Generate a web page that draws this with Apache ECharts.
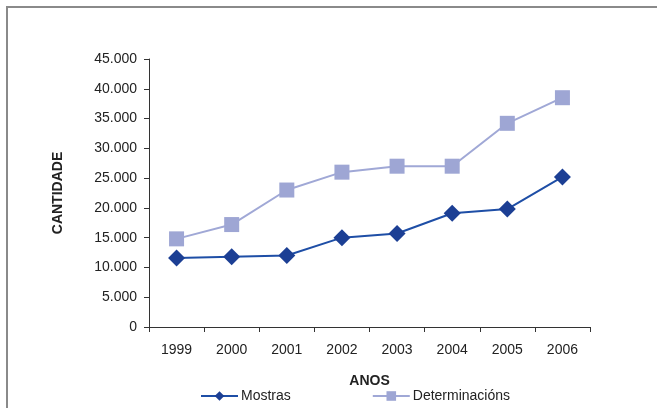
<!DOCTYPE html>
<html><head><meta charset="utf-8">
<script src="https://cdn.jsdelivr.net/npm/echarts@6/dist/echarts.min.js"></script>
<style>html,body{margin:0;padding:0;background:#fff}#c{width:657px;height:408px}</style>
</head><body><div id="c"></div>
<script>
var categories = ['1999','2000','2001','2002','2003','2004','2005','2006'];
var mostras = [11600, 11800, 12000, 15000, 15700, 19100, 19800, 25200];
var determinacions = [14800, 17200, 23000, 26000, 27000, 27000, 34200, 38500];
var seriesNames = ['Mostras', 'Determinacións'];

var chart = echarts.init(document.getElementById('c'), null, {renderer: 'canvas'});
var font = 'Liberation Sans, Arial, sans-serif';
chart.setOption({
  animation: false,
  backgroundColor: '#fff',
  graphic: [{
    type: 'rect', silent: true,
    shape: {x: 7, y: 7, width: 700, height: 500},
    style: {fill: 'none', stroke: '#8a8a8a', lineWidth: 2}
  }],
  grid: {left: 149, right: 67, top: 59, bottom: 81, containLabel: false},
  legend: {
    orient: 'horizontal',
    data: seriesNames,
    top: 384, left: 195, itemGap: 81, itemWidth: 37, itemHeight: 12,
    textStyle: {fontFamily: font, fontSize: 14, color: '#222', padding: [0,0,0,-2]}
  },
  xAxis: {
    type: 'category', data: categories, boundaryGap: true,
    name: 'ANOS', nameLocation: 'middle', nameGap: 47,
    nameTextStyle: {fontFamily: font, fontSize: 14, fontWeight: 'bold', color: '#222'},
    axisLine: {lineStyle: {color: '#333', width: 1}},
    axisTick: {show: true, length: 5, lineStyle: {color: '#333'}},
    axisLabel: {fontFamily: font, fontSize: 14, color: '#222', margin: 16}
  },
  yAxis: {
    type: 'value', min: 0, max: 45000, interval: 5000,
    name: 'CANTIDADE', nameLocation: 'middle', nameGap: 84, nameRotate: 90,
    nameTextStyle: {fontFamily: font, fontSize: 14, fontWeight: 'bold', color: '#222'},
    axisLine: {show: true, lineStyle: {color: '#333', width: 1}},
    axisTick: {show: true, length: 5, lineStyle: {color: '#333'}},
    splitLine: {show: false},
    axisLabel: {fontFamily: font, fontSize: 14, color: '#222', margin: 12,
      formatter: function(v){ return v === 0 ? '0' : (v/1000).toFixed(3); }}
  },
  series: [{
    name: seriesNames[0], type: 'line', data: mostras,
    symbol: 'diamond', symbolSize: 17,
    lineStyle: {color: '#1e4ea6', width: 2},
    itemStyle: {color: '#1c3f94'}
  }, {
    name: seriesNames[1], type: 'line', data: determinacions,
    symbol: 'rect', symbolSize: 15,
    lineStyle: {color: '#a0a8d6', width: 2},
    itemStyle: {color: '#9ea6d4'}
  }]
});
</script></body></html>
